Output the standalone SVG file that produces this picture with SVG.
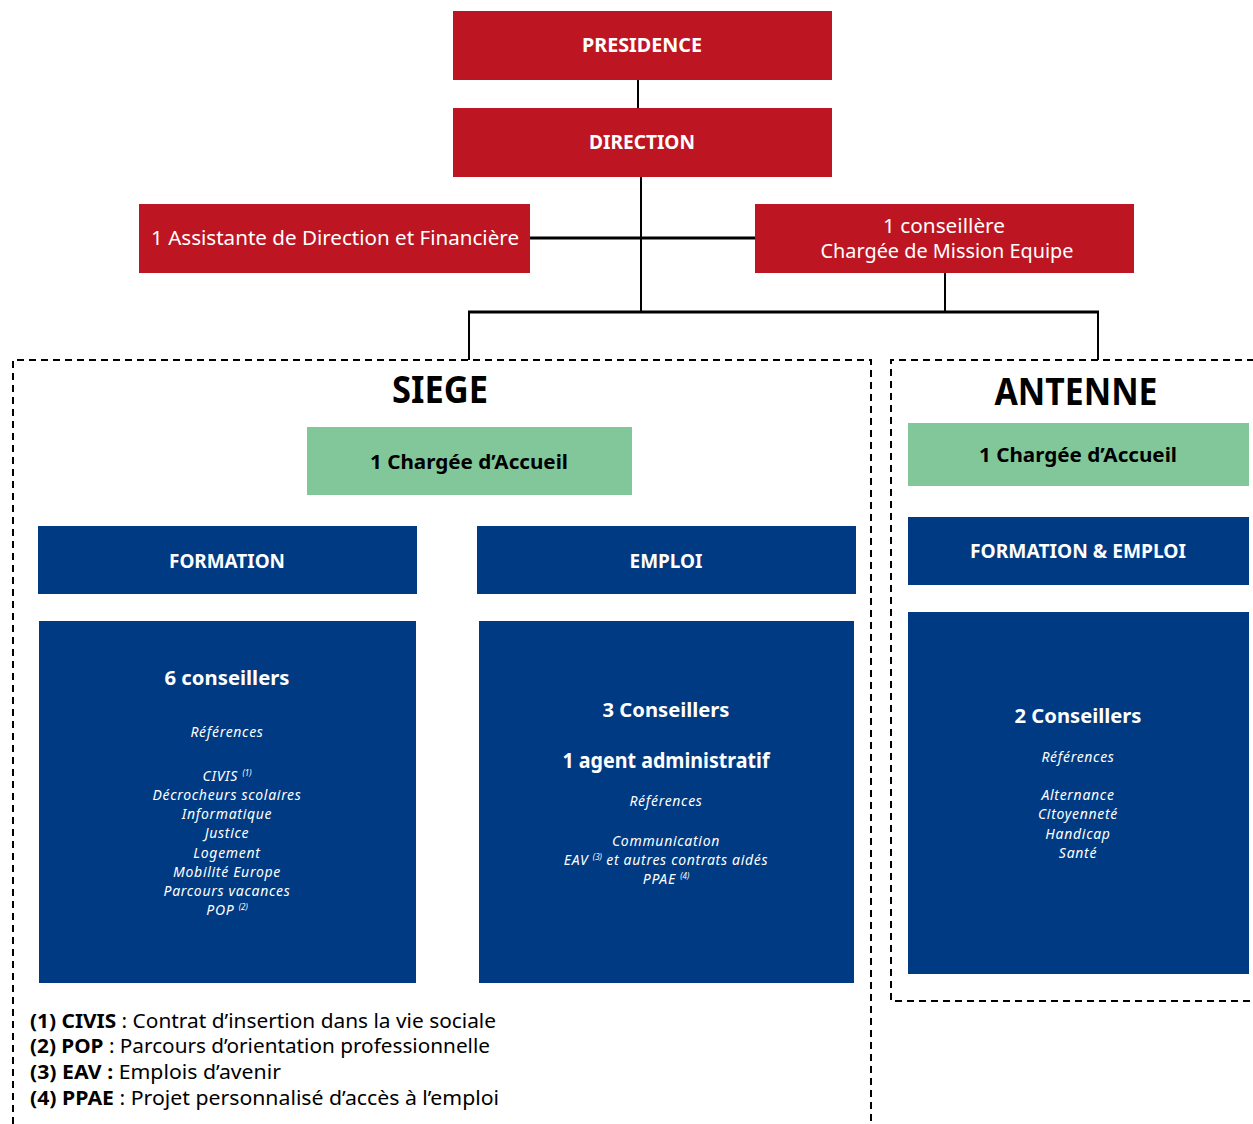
<svg xmlns="http://www.w3.org/2000/svg" width="1253" height="1124" viewBox="0 0 1253 1124">
<style>
.red{fill:#BD1622}
.blue{fill:#003A82}
.green{fill:#82C79A}
.t{font-family:"Noto Sans","DejaVu Sans",sans-serif;text-anchor:middle}
.w{fill:#fff}
.k{fill:#000}
.b{font-weight:bold}
.i{font-style:italic;font-size:14px;letter-spacing:0.7px;fill:#fff}
.sup{font-size:8px;letter-spacing:0}
.dash{fill:none;stroke:#000;stroke-width:2;stroke-dasharray:7 5}
.ln{stroke:#000;stroke-width:2;fill:none}
.lnb{stroke:#000;stroke-width:3;fill:none}
.fn{font-family:"Noto Sans","DejaVu Sans",sans-serif;font-size:19px;fill:#000}
</style>
<g id="connectors">
<line class="ln" x1="638" y1="80" x2="638" y2="108"/>
<line class="ln" x1="641" y1="177" x2="641" y2="312"/>
<line class="lnb" x1="530" y1="238" x2="755" y2="238"/>
<line class="ln" x1="945" y1="273" x2="945" y2="312"/>
<line class="lnb" x1="468" y1="312" x2="1099" y2="312"/>
<line class="ln" x1="469" y1="312" x2="469" y2="360"/>
<line class="ln" x1="1098" y1="312" x2="1098" y2="360"/>
</g>
<g id="siege-frame">
<path class="dash" d="M13,1124 V360 H871 V1124"/>
<text class="t k b" x="440" y="403" font-size="38" textLength="96" lengthAdjust="spacingAndGlyphs">SIEGE</text>
</g>
<g id="antenne-frame">
<path class="dash" d="M1254,360 H891 V1001 H1254"/>
<text class="t k b" x="1076" y="405" font-size="38" textLength="163" lengthAdjust="spacingAndGlyphs">ANTENNE</text>
</g>
<g id="presidence">
<rect class="red" x="453" y="11" width="379" height="69"/>
<text class="t w b" x="642" y="52" font-size="20" textLength="120" lengthAdjust="spacingAndGlyphs">PRESIDENCE</text>
</g>
<g id="direction">
<rect class="red" x="453" y="108" width="379" height="69"/>
<text class="t w b" x="642" y="149" font-size="20" textLength="106" lengthAdjust="spacingAndGlyphs">DIRECTION</text>
</g>
<g id="assistante">
<rect class="red" x="139" y="204" width="391" height="69"/>
<text class="t w" x="335" y="245" font-size="20" textLength="368" lengthAdjust="spacingAndGlyphs">1 Assistante de Direction et Financière</text>
</g>
<g id="conseillere">
<rect class="red" x="755" y="204" width="379" height="69"/>
<text class="t w" x="944" y="233" font-size="20" textLength="122" lengthAdjust="spacingAndGlyphs">1 conseillère</text>
<text class="t w" x="947" y="258" font-size="20" textLength="253" lengthAdjust="spacingAndGlyphs">Chargée de Mission Equipe</text>
</g>
<g id="siege-accueil">
<rect class="green" x="307" y="427" width="325" height="68"/>
<text class="t k b" x="469" y="469" font-size="20" textLength="198" lengthAdjust="spacingAndGlyphs">1 Chargée d’Accueil</text>
</g>
<g id="formation">
<rect class="blue" x="38" y="526" width="379" height="68"/>
<text class="t w b" x="227" y="568" font-size="20" textLength="116" lengthAdjust="spacingAndGlyphs">FORMATION</text>
</g>
<g id="emploi">
<rect class="blue" x="477" y="526" width="379" height="68"/>
<text class="t w b" x="666" y="568" font-size="20" textLength="73" lengthAdjust="spacingAndGlyphs">EMPLOI</text>
</g>
<g id="formation-detail">
<rect class="blue" x="39" y="621" width="377" height="362"/>
<text class="t w b" x="227" y="685" font-size="20" textLength="125" lengthAdjust="spacingAndGlyphs">6 conseillers</text>
<text class="t i" x="227" y="737">Références</text>
<text class="t i" x="227" y="781">CIVIS <tspan class="sup" dy="-5">(1)</tspan></text>
<text class="t i" x="227" y="800">Décrocheurs scolaires</text>
<text class="t i" x="227" y="819">Informatique</text>
<text class="t i" x="227" y="838">Justice</text>
<text class="t i" x="227" y="858">Logement</text>
<text class="t i" x="227" y="877">Mobilité Europe</text>
<text class="t i" x="227" y="896">Parcours vacances</text>
<text class="t i" x="227" y="915">POP <tspan class="sup" dy="-5">(2)</tspan></text>
</g>
<g id="emploi-detail">
<rect class="blue" x="479" y="621" width="375" height="362"/>
<text class="t w b" x="666" y="717" font-size="20" textLength="127" lengthAdjust="spacingAndGlyphs">3 Conseillers</text>
<text class="t w b" x="666" y="768" font-size="21" textLength="207" lengthAdjust="spacingAndGlyphs">1 agent administratif</text>
<text class="t i" x="666" y="806">Références</text>
<text class="t i" x="666" y="846">Communication</text>
<text class="t i" x="666" y="865">EAV <tspan class="sup" dy="-5">(3)</tspan><tspan dy="5"> et autres contrats aidés</tspan></text>
<text class="t i" x="666" y="884">PPAE <tspan class="sup" dy="-5">(4)</tspan></text>
</g>
<g id="antenne-accueil">
<rect class="green" x="908" y="423" width="341" height="63"/>
<text class="t k b" x="1078" y="462" font-size="20" textLength="198" lengthAdjust="spacingAndGlyphs">1 Chargée d’Accueil</text>
</g>
<g id="formation-emploi">
<rect class="blue" x="908" y="517" width="341" height="68"/>
<text class="t w b" x="1078" y="558" font-size="20" textLength="216" lengthAdjust="spacingAndGlyphs">FORMATION &amp; EMPLOI</text>
</g>
<g id="antenne-detail">
<rect class="blue" x="908" y="612" width="341" height="362"/>
<text class="t w b" x="1078" y="723" font-size="20" textLength="127" lengthAdjust="spacingAndGlyphs">2 Conseillers</text>
<text class="t i" x="1078" y="762">Références</text>
<text class="t i" x="1078" y="800">Alternance</text>
<text class="t i" x="1078" y="819">Citoyenneté</text>
<text class="t i" x="1078" y="839">Handicap</text>
<text class="t i" x="1078" y="858">Santé</text>
</g>
<g id="footnotes">
<text class="fn" x="30" y="1028" textLength="466" lengthAdjust="spacingAndGlyphs"><tspan font-weight="bold">(1) CIVIS</tspan> : Contrat d’insertion dans la vie sociale</text>
<text class="fn" x="30" y="1053" textLength="460" lengthAdjust="spacingAndGlyphs"><tspan font-weight="bold">(2) POP</tspan> : Parcours d’orientation professionnelle</text>
<text class="fn" x="30" y="1079" textLength="251" lengthAdjust="spacingAndGlyphs"><tspan font-weight="bold">(3) EAV :</tspan> Emplois d’avenir</text>
<text class="fn" x="30" y="1105" textLength="469" lengthAdjust="spacingAndGlyphs"><tspan font-weight="bold">(4) PPAE</tspan> : Projet personnalisé d’accès à l’emploi</text>
</g>
</svg>
